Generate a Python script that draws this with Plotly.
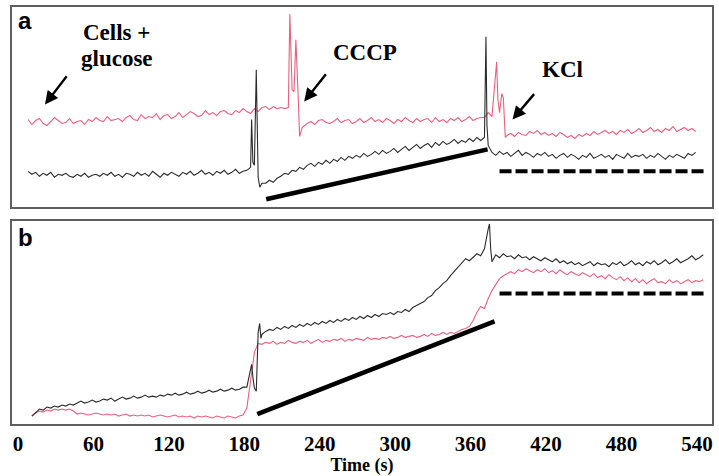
import numpy as np
import plotly.graph_objects as go

# ---------------------------------------------------------------------------
# Fluorescence traces (arbitrary units), sampled every 3 s from the start time.
# Extra samples (spike_t / spike_v) capture the fast transients at additions.
# ---------------------------------------------------------------------------
STEP = 3.0

# Panel a -------------------------------------------------------------------
a_pink_t0 = 8
a_pink = [
    88, 83, 87, 89, 84, 82, 86, 90, 87, 84,
    85, 89, 84, 86, 87, 83, 88, 86, 90, 87,
    86, 91, 87, 88, 89, 86, 90, 92, 88, 87,
    93, 89, 91, 90, 94, 88, 92, 93, 89, 91,
    95, 90, 93, 96, 94, 91, 92, 97, 93, 95,
    92, 96, 97, 94, 93, 97, 95, 99, 96, 94,
    99, 96, 100, 101, 98, 101, 99, 100, 99,
    100, 118, 168, 71,
    81, 84, 86, 83, 87, 88, 85, 84, 86, 89,
    85, 87, 88, 84, 86, 89, 85, 87, 90, 86,
    88, 85, 89, 87, 84, 88, 86, 90, 87, 85,
    89, 86, 88, 89, 85, 90, 86, 88, 85, 89,
    87, 90, 86, 88, 91, 87, 89, 90,
    90, 95, 91, 140, 95, 110, 72,
    74, 71, 75, 73, 72, 76, 74, 77, 73, 75,
    72, 74, 71, 75, 73, 70, 72, 69, 73, 71,
    74, 72, 76, 73, 75, 77, 74, 76, 73, 77,
    75, 78, 74, 76, 79, 75, 77, 80, 76, 78,
    75, 79, 77, 81, 76, 78, 80, 77, 79, 76,
]
a_pink_spike_t = [216.2, 217.2, 219.5, 222.5, 226.0, 380.7, 381.7, 384.8, 387.6]
a_pink_spike_v = [194, 135, 116, 122, 80, 146, 108, 114, 70]

a_black_t0 = 8
a_black = [
    36, 33, 35, 31, 34, 32, 35, 30, 33, 32,
    34, 31, 30, 33, 31, 34, 30, 32, 33, 31,
    34, 32, 35, 31, 33, 30, 34, 33, 31, 35,
    32, 34, 31, 36, 33, 30, 34, 32, 35, 33,
    31, 35, 33, 36, 32, 34, 37, 33, 35, 32,
    36, 34, 37, 33, 35, 38, 34, 36, 37, 40,
    42, 30, 24,
    24, 27, 25, 29, 31, 34, 33, 37, 36, 40,
    38, 42, 44, 41, 45, 43, 47, 44, 48, 46,
    50, 47, 51, 49, 52, 50, 54, 51, 53, 56,
    53, 57, 54, 56, 59, 55, 58, 61, 57, 60,
    63, 59, 62, 64, 60, 65, 62, 66, 63, 65,
    68, 64, 67, 65, 69, 66, 70, 67,
    70, 62,
    55, 52, 56, 53, 55, 51, 54, 57, 52, 55,
    53, 50, 54, 52, 55, 51, 53, 49, 52, 54,
    50, 53, 51, 48, 52, 50, 54, 49, 51, 53,
    50, 52, 48, 53, 51, 49, 54, 50, 52, 51,
    53, 49, 52, 50, 54, 51, 48, 52, 50, 53,
    51, 49, 54, 52, 55,
]
a_black_spike_t = [185.8, 186.8, 189.5, 190.3, 192.3, 372.2, 373.0]
a_black_spike_v = [88, 45, 138, 60, 20, 171, 82]

# Panel b -------------------------------------------------------------------
b_pink_t0 = 11
b_pink = [
    8, 11, 13, 12, 14, 13, 15, 14, 15, 14,
    15, 13, 10, 11, 10, 9, 10, 11, 10, 9,
    10, 9, 10, 8, 9, 10, 8, 9, 8, 9,
    8, 9, 7, 8, 9, 8, 7, 8, 9, 7,
    8, 7, 8, 6, 8, 7, 8, 7, 6, 8,
    7, 6, 8, 7, 6, 8,
    9, 16, 42, 72, 81,
    80, 82, 81, 83, 80, 82, 81, 84, 82, 81,
    83, 82, 84, 81, 83, 85, 82, 84, 83, 85,
    84, 86, 83, 85, 84, 86, 85, 84, 87, 85,
    86, 85, 87, 86, 88, 86, 87, 89, 87, 88,
    89, 87, 88, 90, 88, 91, 89, 90, 92, 90,
    92, 91, 93, 95, 96,
    98, 104, 112, 118, 116, 126, 134, 140, 146, 149, 151,
    153, 151, 155, 153, 156, 154, 152, 155, 153, 156,
    152, 154, 151, 155, 152, 150, 153, 151, 149, 152,
    150, 148, 151, 147, 149, 146, 150, 147, 145, 148,
    144, 147, 143, 146, 142, 145, 141, 144, 146, 142,
    143, 141, 145, 142, 144, 141, 143, 145, 142, 144,
    143, 145,
]
b_pink_spike_t = []
b_pink_spike_v = []

b_black_t0 = 11
b_black = [
    8, 12, 15, 14, 17, 16, 18, 17, 19, 18,
    20, 19, 21, 23, 21, 22, 24, 22, 23, 25,
    24, 26, 23, 25, 27, 25, 26, 28, 26, 27,
    29, 27, 28, 27, 29, 28, 30, 29, 31, 29,
    30, 32, 30, 31, 33, 31, 32, 34, 32, 33,
    35, 33, 34, 36, 34, 35, 37,
    37, 55, 36, 92, 90,
    93, 95, 94, 97, 95, 98, 96, 99, 97, 100,
    98, 101, 99, 102, 100, 103, 101, 104, 102, 105,
    103, 106, 104, 107, 105, 108, 106, 109, 107, 110,
    108, 111, 110, 112, 110, 113, 112, 115, 113, 117,
    119, 121, 123, 127, 129, 134, 137, 141, 144, 149,
    153, 158, 162, 166, 164, 168, 171, 169, 176,
    196, 163,
    170, 167, 171, 168, 169, 166, 170, 167, 168, 165,
    168, 166, 164, 167, 165, 163, 166, 162, 164, 161,
    163, 160, 162, 159, 161, 163, 159, 162, 160, 161,
    158, 162, 160, 163, 159, 161, 164, 160, 162, 159,
    163, 161, 164, 160, 162, 165, 161, 163, 166, 162,
    164, 166, 169, 165, 167, 170,
]
b_black_spike_t = [185.8, 187.0, 189.5, 192.2, 193.2, 375.0, 376.0]
b_black_spike_v = [60, 45, 33, 101, 86, 201, 175]

# Guide lines (time in s, signal in a.u.)
a_slope_t, a_slope_v = [197.4, 373.5], [8, 58]
a_level_t, a_level_v = [383, 546], [36, 36]
b_slope_t, b_slope_v = [190.3, 379.0], [10, 103]
b_level_t, b_level_v = [383, 546], [131, 131]

tick_vals = [0, 60, 120, 180, 240, 300, 360, 420, 480, 540]

PINK = "#e8607f"
BLACK = "#2b2b2b"
FRAME = "#5e5e5e"
SERIF = "Liberation Serif"


def series(t0, vals, extra_t, extra_v):
    t = t0 + STEP * np.arange(len(vals))
    tt = np.concatenate([t, np.asarray(extra_t, float)])
    vv = np.concatenate([np.asarray(vals, float), np.asarray(extra_v, float)])
    order = np.argsort(tt, kind="stable")
    return tt[order], vv[order]


fig = go.Figure()

for (t0, vals, et, ev, color, xa, ya) in [
    (a_pink_t0, a_pink, a_pink_spike_t, a_pink_spike_v, PINK, "x", "y"),
    (a_black_t0, a_black, a_black_spike_t, a_black_spike_v, BLACK, "x", "y"),
    (b_pink_t0, b_pink, b_pink_spike_t, b_pink_spike_v, PINK, "x2", "y2"),
    (b_black_t0, b_black, b_black_spike_t, b_black_spike_v, BLACK, "x2", "y2"),
]:
    t, v = series(t0, vals, et, ev)
    fig.add_trace(go.Scatter(x=t, y=v, mode="lines", xaxis=xa, yaxis=ya,
                             line=dict(color=color, width=1.1),
                             showlegend=False, hoverinfo="skip"))

for (tx, vy, dash, xa, ya) in [
    (a_slope_t, a_slope_v, "solid", "x", "y"),
    (a_level_t, a_level_v, "12px,4px", "x", "y"),
    (b_slope_t, b_slope_v, "solid", "x2", "y2"),
    (b_level_t, b_level_v, "12px,4px", "x2", "y2"),
]:
    fig.add_trace(go.Scatter(x=tx, y=vy, mode="lines", xaxis=xa, yaxis=ya,
                             line=dict(color="black", width=4.5 if dash == "solid" else 4, dash=dash),
                             showlegend=False, hoverinfo="skip"))

XR = [-4.8, 552]
frame = dict(showline=True, linecolor=FRAME, linewidth=2, mirror=True,
             showgrid=False, zeroline=False, ticks="")

fig.update_layout(
    width=719, height=476,
    margin=dict(l=12, r=5, t=7, b=50),
    paper_bgcolor="white", plot_bgcolor="white",
    xaxis=dict(domain=[0, 1], range=XR, anchor="y", showticklabels=False, **frame),
    yaxis=dict(domain=[0.520, 1], range=[0, 201], anchor="x", showticklabels=False, **frame),
    xaxis2=dict(domain=[0, 1], range=XR, anchor="y2", tickvals=tick_vals,
                tickfont=dict(family=SERIF, size=21, color="black", weight="bold"),
                title=dict(text="Time (s)", standoff=2,
                           font=dict(family=SERIF, size=18, color="black", weight="bold")),
                **frame),
    yaxis2=dict(domain=[0, 0.487], range=[0, 204], anchor="x2", showticklabels=False, **frame),
)

ann_font = dict(family=SERIF, size=23, color="black", weight="bold")
labels = [
    ("Cells +", 78.5, 175, "x", "y"),
    ("glucose", 78.5, 149, "x", "y"),
    ("CCCP", 276, 155, "x", "y"),
    ("KCl", 433, 138, "x", "y"),
]
for text, tx, vy, xr, yr in labels:
    fig.add_annotation(x=tx, y=vy, xref=xr, yref=yr, text=text, showarrow=False,
                       font=ann_font, xanchor="center", yanchor="middle")

# Arrows pointing to the moments of addition
arrows = [
    ((39.6, 133), (21.4, 103)),
    ((245.8, 135), (227.6, 106)),
    ((411.5, 115), (393.3, 88)),
]
for (t_tail, v_tail), (t_head, v_head) in arrows:
    fig.add_annotation(x=t_head, y=v_head, ax=t_tail, ay=v_tail,
                       xref="x", yref="y", axref="x", ayref="y",
                       text="", showarrow=True, arrowhead=2, arrowsize=1.1,
                       arrowwidth=2.4, arrowcolor="black")

# Panel letters
panel_font = dict(family="Liberation Sans", size=24, color="black", weight="bold")
fig.add_annotation(x=0.019, y=0.968, xref="paper", yref="paper", text="a",
                   showarrow=False, font=panel_font, xanchor="center", yanchor="middle")
fig.add_annotation(x=0.019, y=0.447, xref="paper", yref="paper", text="b",
                   showarrow=False, font=panel_font, xanchor="center", yanchor="middle")

fig.write_html("out.html")
